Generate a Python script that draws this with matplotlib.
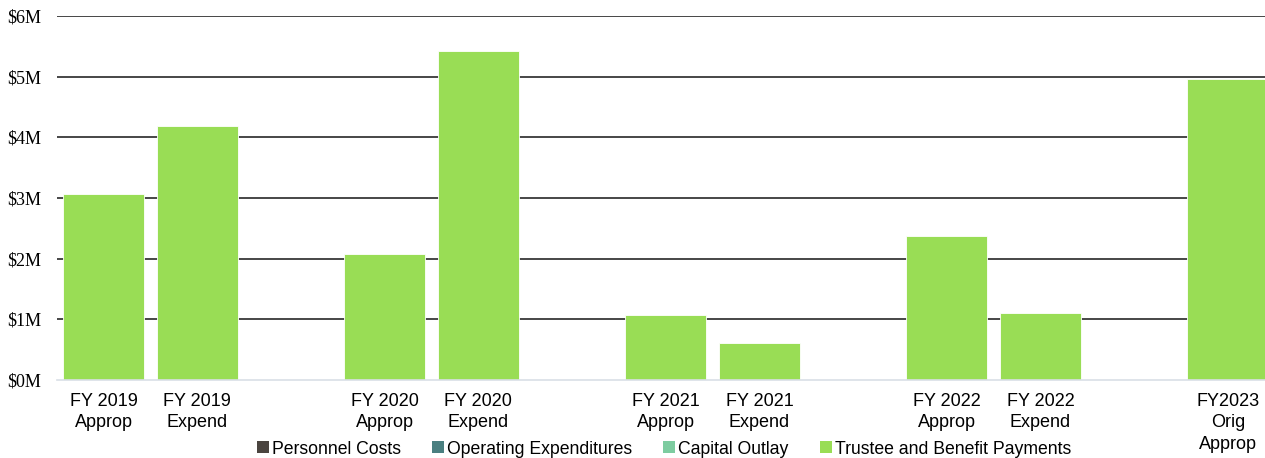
import matplotlib
matplotlib.use("Agg")
import matplotlib.pyplot as plt
from matplotlib.patches import Patch
import numpy as np

categories = ["FY 2019\nApprop", "FY 2019\nExpend", "", "FY 2020\nApprop", "FY 2020\nExpend", "",
              "FY 2021\nApprop", "FY 2021\nExpend", "", "FY 2022\nApprop", "FY 2022\nExpend", "",
              "FY2023\nOrig\nApprop"]
series_names = ["Personnel Costs", "Operating Expenditures", "Capital Outlay", "Trustee and Benefit Payments"]
personnel = [0, 0, 0, 0, 0, 0, 0, 0, 0, 0, 0, 0, 0]
operating = [0, 0, 0, 0, 0, 0, 0, 0, 0, 0, 0, 0, 0]
capital = [0, 0, 0, 0, 0, 0, 0, 0, 0, 0, 0, 0, 0]
trustee = [3.07, 4.19, 0, 2.07, 5.42, 0, 1.07, 0.61, 0, 2.37, 1.11, 0, 4.96]
colors = ["#4b4540", "#4a7f80", "#7dcca0", "#99dd55"]
yticks = [0, 1, 2, 3, 4, 5, 6]
ytick_labels = ["$0M", "$1M", "$2M", "$3M", "$4M", "$5M", "$6M"]

W, H = 1265, 458
fig = plt.figure(figsize=(W / 100, H / 100), dpi=100)
left, right, bottom, top = 56.65, 1265, 380, 16
ax = fig.add_axes([left / W, (H - bottom) / H, (right - left) / W, (bottom - top) / H])

x = np.arange(len(categories))
slot = 93.7
width = 81 / slot
base = np.zeros(len(categories))
for vals, c in zip([personnel, operating, capital, trustee], colors):
    vals = np.array(vals, dtype=float)
    ax.bar(x, vals, width=width, bottom=base, color=c, edgecolor="white", linewidth=0.6, zorder=3)
    base += vals

ax.set_xlim(-0.5, -0.5 + (right - left) / slot)
ax.set_ylim(0, 6)
ax.set_yticks(yticks)
ax.set_yticklabels(ytick_labels, fontfamily="Liberation Serif", fontsize=13)
ax.set_xticks(x)
ax.set_xticklabels(categories, fontfamily="Liberation Sans", fontsize=13, linespacing=1.33)
ax.tick_params(axis="y", length=0, pad=11)
ax.tick_params(axis="x", length=0, pad=9.5)
for y in yticks[1:]:
    ax.axhline(y, color="#383838", linewidth=1.3, zorder=1)
for s in ["top", "right", "left"]:
    ax.spines[s].set_visible(False)
ax.spines["bottom"].set_color("#d9dfe6")
ax.spines["bottom"].set_linewidth(1.2)
ax.spines["bottom"].set_zorder(4)

handles = [Patch(facecolor=c, edgecolor="none") for c in colors]
fig.legend(handles, series_names, loc="center", bbox_to_anchor=(664 / W, (H - 449) / H), ncol=4,
           frameon=False, prop={"family": "Liberation Sans", "size": 12.7},
           handlelength=0.68, handleheight=0.68, handletextpad=0.18, columnspacing=1.75,
           borderpad=0, borderaxespad=0)

fig.savefig("out.png", dpi=100)
